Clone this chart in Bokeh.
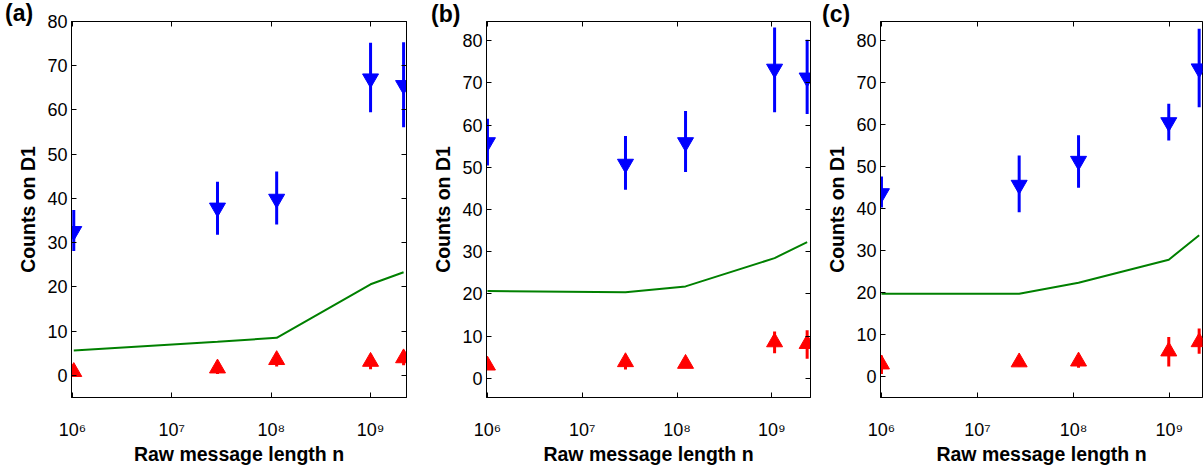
from bokeh.plotting import figure
from bokeh.models import Range1d, FixedTicker, LinearAxis, LogAxis, GridBox, Div
from bokeh.embed import file_html
from bokeh.resources import INLINE

# ---------------- data ----------------
panel_labels = ["(a)", "(b)", "(c)"]
x_tick_values = [1e6, 1e7, 1e8, 1e9]
x_tick_labels = ["10⁶", "10⁷", "10⁸", "10⁹"]
y_tick_values = [0, 10, 20, 30, 40, 50, 60, 70, 80]
x_label = "Raw message length n"
y_label = "Counts on D1"

# panel (a)
n_a = [1.03e6, 2.88e7, 1.135e8, 1.0e9, 2.15e9]
blue_a = [32.6, 37.9, 39.9, 67.1, 65.6]
blue_a_hi = [37.4, 43.8, 46.1, 75.2, 75.3]
blue_a_lo = [28.1, 31.8, 34.1, 59.5, 56.1]
red_a = [0.8, 1.6, 3.5, 3.1, 3.9]
red_a_hi = [1.6, 3.0, 5.0, 4.8, 5.6]
red_a_lo = [0.0, 0.3, 2.0, 1.4, 2.3]
green_a = [5.6, 7.6, 8.5, 20.6, 23.3]

# panel (b)
n_b = [1.0e6, 2.86e7, 1.23e8, 1.07e9, 2.36e9]
blue_b = [55.9, 50.8, 55.9, 73.3, 71.2]
blue_b_hi = [61.5, 57.4, 63.3, 83.1, 80.2]
blue_b_lo = [50.4, 44.7, 48.9, 63.0, 62.6]
red_b = [3.1, 3.9, 3.5, 8.6, 8.2]
red_b_hi = [4.1, 5.4, 4.5, 11.1, 11.4]
red_b_lo = [2.1, 2.1, 2.5, 6.0, 4.7]
green_b = [20.7, 20.4, 21.8, 28.5, 32.3]

# panel (c)
n_c = [1.0e6, 2.72e7, 1.13e8, 9.84e8, 2.04e9]
blue_c = [43.6, 45.6, 51.3, 60.5, 73.3]
blue_c_hi = [47.6, 52.6, 57.4, 64.9, 82.8]
blue_c_lo = [40.2, 39.1, 44.9, 56.2, 64.1]
red_c = [2.9, 3.4, 3.6, 6.0, 8.2]
red_c_hi = [5.0, 4.4, 5.1, 9.4, 11.4]
red_c_lo = [0.6, 2.4, 2.1, 2.4, 5.4]
green_c = [19.7, 19.7, 22.3, 27.8, 33.6]

# ---------------- styling ----------------
FONT = "Liberation Sans"
BLUE = "#0000ff"
RED = "#ff0000"
GREEN = "#008000"
H = 468


def make_panel(n, blue, blue_hi, blue_lo, red, red_hi, red_lo, green,
               xr, yr, width, bl, br, bt, bb, right_axis=True):
    p = figure(width=width, height=H, x_axis_type="log",
               x_range=Range1d(*xr), y_range=Range1d(*yr),
               output_backend="svg", toolbar_location=None,
               min_border_left=bl, min_border_right=br,
               min_border_top=bt, min_border_bottom=bb,
               background_fill_color="white", border_fill_color="white")
    p.grid.visible = False
    p.outline_line_color = "black"
    p.outline_line_width = 1

    # green line
    p.line(n, green, line_color=GREEN, line_width=2)
    # blue error bars + inverted triangles
    p.segment(x0=n, y0=blue_lo, x1=n, y1=blue_hi, line_color=BLUE, line_width=3)
    p.scatter(n, blue, marker="inverted_triangle", size=16,
              fill_color=BLUE, line_color=BLUE)
    # red error bars + triangles
    p.segment(x0=n, y0=red_lo, x1=n, y1=red_hi, line_color=RED, line_width=3)
    p.scatter(n, red, marker="triangle", size=16,
              fill_color=RED, line_color=RED)

    p.xaxis.ticker = FixedTicker(ticks=x_tick_values)
    p.xaxis.major_label_overrides = dict(zip(x_tick_values, x_tick_labels))
    p.yaxis.ticker = FixedTicker(ticks=y_tick_values)
    p.xaxis.axis_label = x_label
    p.yaxis.axis_label = y_label

    for ax in (p.xaxis[0], p.yaxis[0]):
        ax.major_tick_in = 5
        ax.major_tick_out = 0
        ax.minor_tick_line_color = None
        ax.axis_line_color = "black"
        ax.major_tick_line_color = "black"
        ax.major_label_text_font = FONT
        ax.major_label_text_font_size = "18px"
        ax.major_label_text_color = "black"
        ax.axis_label_text_font = FONT
        ax.axis_label_text_font_style = "bold"
        ax.axis_label_text_font_size = "19.5px"
        ax.axis_label_text_color = "black"
    p.xaxis.major_label_standoff = 22
    p.xaxis.axis_label_standoff = 0
    p.yaxis.major_label_standoff = 4
    p.yaxis.axis_label_standoff = 5

    top = LogAxis(ticker=FixedTicker(ticks=x_tick_values),
                  major_label_text_font_size="1px", major_label_text_alpha=0,
                  major_label_standoff=0,
                  major_tick_in=5, major_tick_out=0,
                  minor_tick_line_color=None, axis_line_color="black")
    p.add_layout(top, "above")
    if right_axis:
        right = LinearAxis(ticker=FixedTicker(ticks=y_tick_values),
                           major_label_text_font_size="1px", major_label_text_alpha=0,
                           major_label_standoff=0,
                           major_tick_in=5, major_tick_out=0,
                           minor_tick_line_color=None, axis_line_color="black")
        p.add_layout(right, "right")
    return p


def panel_tag(text, left, top):
    html = ('<div style="font-family:\'Liberation Sans\',Arial,sans-serif;'
            'font-weight:bold;font-size:23px;line-height:26px;color:black;'
            'white-space:nowrap;">' + text + '</div>')
    return Div(text=html, width=40, height=28, margin=(top, 0, 0, left))


pa = make_panel(n_a, blue_a, blue_a_hi, blue_a_lo,
                red_a, red_a_hi, red_a_lo, green_a,
                xr=(10**5.99, 2.30e9), yr=(-5, 80), width=420,
                bl=71, br=14, bt=15, bb=67)
pb = make_panel(n_b, blue_b, blue_b_hi, blue_b_lo,
                red_b, red_b_hi, red_b_lo, green_b,
                xr=(10**5.99, 2.56e9), yr=(-4.5, 84.5), width=400,
                bl=66, br=10, bt=21, bb=71)
pc = make_panel(n_c, blue_c, blue_c_hi, blue_c_lo,
                red_c, red_c_hi, red_c_lo, green_c,
                xr=(10**5.99, 2.21e9), yr=(-5, 84.5), width=383,
                bl=60, br=1, bt=21, bb=71, right_axis=False)

ta = panel_tag(panel_labels[0], 5, 0)
tb = panel_tag(panel_labels[1], 11, 1)
tc = panel_tag(panel_labels[2], 2, 1)

layout = GridBox(children=[(pa, 0, 0), (pb, 0, 1), (pc, 0, 2),
                           (ta, 0, 0), (tb, 0, 1), (tc, 0, 2)])
open("out.html", "w").write(file_html(layout, INLINE))
